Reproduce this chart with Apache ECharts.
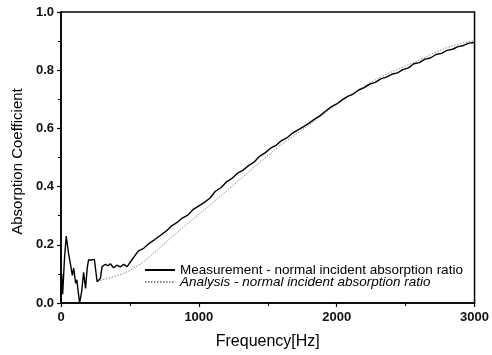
<!DOCTYPE html>
<html>
<head>
<meta charset="utf-8">
<script src="https://cdn.jsdelivr.net/npm/echarts@6/dist/echarts.min.js"></script>
<style>html,body{margin:0;padding:0;background:#fff}#c{width:492px;height:355px}</style>
</head>
<body>
<div id="c"></div>
<script>
var measFreq = [0,5,12,25,38,55,70,82,92,106,115,122,135,150,164,178,190,200,226,242,262,286,298,310,322,340,358,382,405,430,455,480,
  520,560,600,640,680,720,760,800,840,880,920,960,1000,1040,1080,1120,1160,1200,1240,1280,1320,1360,1400,1440,1480,1520,1560,1600,1640,1680,1720,1760,1800,1840,1880,1920,1960,2000,2040,2080,2120,2160,2200,2240,2280,2320,2360,2400,2440,2480,2520,2560,2600,2640,2680,2720,2760,2800,2840,2880,2920,2960,3000];
var measVal = [0.0,0.10,0.03,0.15,0.23,0.17,0.13,0.095,0.12,0.068,0.08,0.05,0.0,0.04,0.105,0.05,0.12,0.148,0.148,0.15,0.073,0.085,0.125,0.12,0.133,0.128,0.135,0.121,0.13,0.124,0.133,0.125,
  0.152,0.178,0.188,0.205,0.218,0.232,0.246,0.264,0.276,0.292,0.302,0.322,0.334,0.346,0.360,0.384,0.396,0.416,0.428,0.446,0.456,0.472,0.484,0.504,0.516,0.532,0.542,0.558,0.568,0.584,0.595,0.606,0.618,0.632,0.644,0.660,0.674,0.684,0.698,0.710,0.718,0.732,0.740,0.752,0.758,0.770,0.776,0.786,0.791,0.802,0.808,0.822,0.826,0.838,0.842,0.854,0.858,0.868,0.872,0.881,0.885,0.893,0.895];
var anaFreq = [262,300,350,400,450,500,550,600,650,700,800,900,1000,1100,1200,1300,1400,1500,1600,1700,1800,1900,2000,2100,2200,2300,2400,2500,2600,2700,2800,2900,3000];
var anaVal = [0.074,0.080,0.086,0.093,0.101,0.112,0.126,0.142,0.162,0.183,0.225,0.266,0.305,0.345,0.385,0.425,0.466,0.506,0.545,0.578,0.612,0.648,0.683,0.716,0.745,0.772,0.795,0.815,0.835,0.858,0.878,0.892,0.902];
var xTicks = [0,1000,2000,3000];
var yTicks = [0.0,0.2,0.4,0.6,0.8,1.0];
var seriesNames = ['Measurement - normal incident absorption ratio','Analysis - normal incident absorption ratio'];

function pairs(xs, ys){ return xs.map(function(x,i){ return [x, ys[i]]; }); }

var chart = echarts.init(document.getElementById('c'), null, {renderer:'canvas'});
var font = 'Liberation Sans, Arial, sans-serif';
chart.setOption({
  animation:false,
  backgroundColor:'#fff',
  grid:{left:61,right:15,top:12,bottom:52,show:true,borderColor:'#000',borderWidth:1.5,backgroundColor:'transparent'},
  xAxis:{type:'value',min:xTicks[0],max:xTicks[xTicks.length-1],interval:1000,
    name:'Frequency[Hz]',nameLocation:'middle',nameGap:31,
    nameTextStyle:{fontFamily:font,fontSize:16,color:'#000'},
    axisLine:{show:true,onZero:false,lineStyle:{color:'#000',width:1.5}},
    axisTick:{show:true,inside:false,length:4,lineStyle:{color:'#000',width:1.2}},
    minorTick:{show:true,splitNumber:2,length:3,lineStyle:{color:'#000',width:1}},
    axisLabel:{fontFamily:font,fontSize:13,fontWeight:'bold',color:'#111',margin:8,formatter:function(v){return String(v);}},
    splitLine:{show:false}},
  yAxis:{type:'value',min:yTicks[0],max:yTicks[yTicks.length-1],interval:0.2,
    name:'Absorption Coefficient',nameLocation:'middle',nameGap:36,
    nameTextStyle:{fontFamily:font,fontSize:15,color:'#000',padding:[0,0,0,-8]},
    axisLine:{show:true,lineStyle:{color:'#000',width:1.5}},
    axisTick:{show:true,inside:false,length:4,lineStyle:{color:'#000',width:1.2}},
    minorTick:{show:true,splitNumber:2,length:3,lineStyle:{color:'#000',width:1}},
    axisLabel:{fontFamily:font,fontSize:13,fontWeight:'bold',color:'#111',margin:7,formatter:function(v){return v.toFixed(1);}},
    splitLine:{show:false}},
  legend:{show:true,orient:'vertical',left:139,top:258,itemWidth:30,itemHeight:8,itemGap:-2,
    itemStyle:{opacity:0},
    textStyle:{fontFamily:font,fontSize:13.5,color:'#000',
      rich:{n:{fontFamily:font,fontSize:13.5,color:'#000',lineHeight:12},i:{fontFamily:font,fontSize:13.5,fontStyle:'italic',color:'#000',lineHeight:12}}},
    formatter:function(name){
      if(name===seriesNames[1]){ return '{i|Analysis - normal incident absorption ratio}'; }
      return '{n|' + name + '}';
    },
    data:[{name:seriesNames[0]},{name:seriesNames[1]}]},
  series:[
    {name:seriesNames[0],type:'line',data:pairs(measFreq,measVal),symbol:'none',
      lineStyle:{color:'#000',width:1.4},itemStyle:{color:'#000'},z:3},
    {name:seriesNames[1],type:'line',data:pairs(anaFreq,anaVal),symbol:'none',
      lineStyle:{color:'#8a8a8a',width:1,type:[1.5,1.5]},itemStyle:{color:'#8a8a8a'},z:2}
  ]
});
</script>
</body>
</html>
